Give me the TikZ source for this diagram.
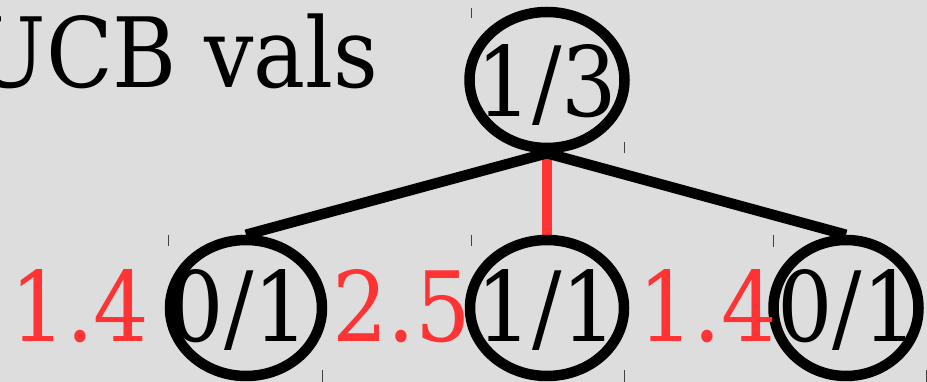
\documentclass[tikz,border=0pt]{standalone}
\usepackage{fontspec}
\setmainfont{DejaVu Serif Condensed}
\usetikzlibrary{shapes.geometric}
\definecolor{bgc}{HTML}{DDDDDD}
\definecolor{redc}{HTML}{FF3333}
\pgfdeclarelayer{bg}
\pgfdeclarelayer{lines}
\pgfsetlayers{bg,lines,main}
\tikzset{
  bigfont/.style={font=\fontsize{97}{100}\selectfont},
  treenode/.style={ellipse, draw=black, line width=10.5pt, inner sep=0pt,
    minimum height=136pt, text depth=0pt, bigfont},
  edgeblack/.style={draw=black, line width=10.5pt},
  edgered/.style={draw=redc, line width=10.5pt},
  ucb/.style={text=redc, bigfont, inner sep=0pt, anchor=base},
  tick/.style={draw=black!75, line width=0.8pt}
}
\begin{document}
\begin{tikzpicture}[x=1pt,y=1pt]
\begin{pgfonlayer}{bg}
\fill[bgc] (0,0) rectangle (927,382);
\end{pgfonlayer}
\useasboundingbox (0,0) rectangle (927,382);
% title
\node[bigfont, anchor=base east, inner sep=0pt] (title) at (379,294) {UCB vals};
% nodes
\node[treenode, minimum width=155pt, text height=74pt] (root) at (547,302) {\makebox[0pt]{1/3}};
\node[treenode, minimum width=152pt, text height=68pt] (left) at (246,74) {\makebox[0pt]{\kern-14pt 0/1}};
\node[treenode, minimum width=154pt, text height=68pt] (mid) at (547,74) {\makebox[0pt]{1/1}};
\node[treenode, minimum width=145pt, text height=68pt] (right) at (846,74) {\makebox[0pt]{\kern3pt 0/1}};
% connectors
\begin{pgfonlayer}{lines}
\draw[edgered] (root.south) -- (mid.north);
\draw[edgeblack] (root.south) -- (left.north);
\draw[edgeblack] (root.south) -- (right.north);
\end{pgfonlayer}
% ucb values
\node[ucb] (u1) at (80,40) {1.4};
\node[ucb] (u2) at (401.5,40) {2.5};
\node[ucb] (u3) at (707.5,40) {1.4};
% small tick marks
\draw[tick] (471,374) -- (471,364);
\draw[tick] (624,240) -- (624,229);
\draw[tick] (168,147) -- (168,136);
\draw[tick] (322,12) -- (322,0);
\draw[tick] (471,147) -- (471,136);
\draw[tick] (624,12) -- (624,0);
\draw[tick] (773,147) -- (773,135);
\draw[tick] (926,12) -- (926,0);
\end{tikzpicture}
\end{document}
